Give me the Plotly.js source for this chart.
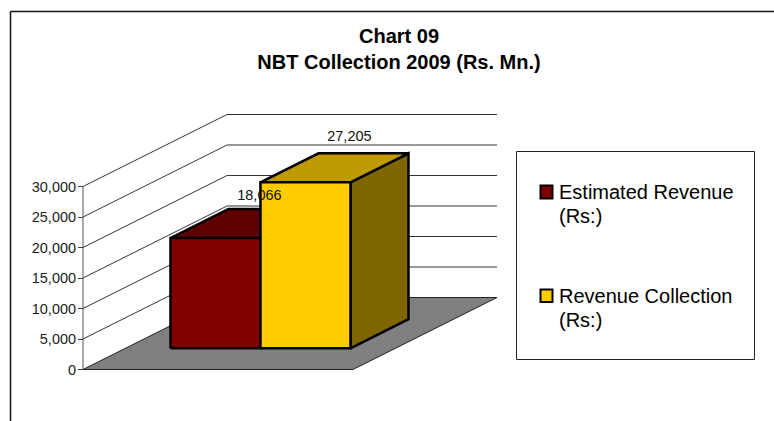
<!DOCTYPE html>
<html><head><meta charset="utf-8">
<script src="https://cdn.plot.ly/plotly-3.0.1.min.js"></script>
<style>html,body{margin:0;padding:0;background:#fff}#c{width:774px;height:421px}</style></head>
<body><div id="c"></div>
<script>
// ---- data ----
const seriesNames = [["Estimated Revenue", "(Rs:)"], ["Revenue Collection", "(Rs:)"]];
const seriesValues = [18066, 27205];
const axisTicks = [0, 5000, 10000, 15000, 20000, 25000, 30000];
const frontColors = ["#800000", "#FFCC00"];
const topColors = ["#5F0000", "#BF9900"];
const sideColors = ["#400000", "#806600"];

// ---- chart geometry (pixels on the 774x421 canvas) ----
const W = 774, H = 421;
const X0 = 83, Y0 = 369.5, FLOOR_W = 270, PX_PER_VALUE = 183 / 30000;
const DEPTH_X = 144, DEPTH_Y = 72;            // oblique offset of the back wall
const BAR_START = 1 / 6, BAR_W = 1 / 3;       // bar layout along the floor
const DEPTH_FRONT = 0.295, DEPTH_BACK = 0.698;
const LABEL_DEPTH = 0.6, LABEL_LIFT = [19.5, 22.5];
const FONT = "Liberation Sans, Arial, sans-serif";

// oblique projection: position along floor, depth (0..1), value -> axis coordinates
const P = (u, d, v) => [u + d * DEPTH_X / FLOOR_W, v + d * DEPTH_Y / PX_PER_VALUE];
const poly = (pts, fill, lw, lc) => ({
  type: "scatter", mode: "lines", x: pts.map(p => p[0]), y: pts.map(p => p[1]),
  fill: fill ? "toself" : "none", fillcolor: fill || undefined,
  line: {color: lc || "#000", width: lw}, hoverinfo: "skip", showlegend: false
});
const traces = [];
// floor
traces.push(poly([P(0,0,0),P(1,0,0),P(1,1,0),P(0,1,0),P(0,0,0)], "#808080", 1, "#222"));
// value grid on side and back walls
axisTicks.forEach(t => { if (t > 0) traces.push(poly([P(0,0,t),P(0,1,t),P(1,1,t)], null, 1, "#333")); });
// value axis line
traces.push(poly([P(0,0,0),P(0,0,axisTicks[axisTicks.length-1])], null, 1, "#555"));
// bars
seriesValues.forEach((v, i) => {
  const a = BAR_START + i * BAR_W, b = a + BAR_W, f = DEPTH_FRONT, k = DEPTH_BACK;
  const q = (u, d, h) => P(u, d, h);
  traces.push(poly([q(b,f,0),q(b,k,0),q(b,k,v),q(b,f,v),q(b,f,0)], sideColors[i], 2.5));
  traces.push(poly([q(a,f,v),q(b,f,v),q(b,k,v),q(a,k,v),q(a,f,v)], topColors[i], 2.5));
  traces.push(poly([q(a,f,0),q(b,f,0),q(b,f,v),q(a,f,v),q(a,f,0)], frontColors[i], 2.5));
});
// data labels
const labelPts = seriesValues.map((v, i) => P(BAR_START + (i + 0.5) * BAR_W, LABEL_DEPTH, v + LABEL_LIFT[i] / PX_PER_VALUE));
traces.push({type: "scatter", mode: "text", x: labelPts.map(p => p[0]), y: labelPts.map(p => p[1]),
  text: seriesValues.map(v => v.toLocaleString("en-US")), textposition: "middle center",
  textfont: {family: FONT, size: 14.5, color: "#111"}, hoverinfo: "skip", showlegend: false, cliponaxis: false});

const px = x => x / W, py = y => 1 - y / H;
const rect = (x0, y0, x1, y1, fill, lw, lc) => ({type: "rect", xref: "paper", yref: "paper",
  x0: px(x0), x1: px(x1), y0: py(y0), y1: py(y1), fillcolor: fill, line: {color: lc, width: lw}});
const seg = (x0, y0, x1, y1, lw, lc) => ({type: "line", xref: "paper", yref: "paper",
  x0: px(x0), x1: px(x1), y0: py(y0), y1: py(y1), line: {color: lc, width: lw}});
const shapes = [
  seg(10.5, 11.5, 774, 11.5, 1.5, "#111"), seg(10.5, 11.5, 10.5, 421, 1.5, "#111"),
  rect(516.5, 151.5, 754.5, 359.5, "#fff", 1, "#222"),
  rect(540.5, 185.5, 552.5, 198.5, frontColors[0], 2, "#000"),
  rect(540.5, 289.5, 552.5, 302, frontColors[1], 2, "#000")
];
const legendTextY = [[192, 216], [296, 320]];
const annotations = seriesNames.flatMap((lines, i) => lines.map((line, j) => ({
  xref: "paper", yref: "paper", x: px(558), y: py(legendTextY[i][j]), xanchor: "left", yanchor: "middle", align: "left",
  showarrow: false, text: line, font: {family: FONT, size: 20, color: "#000"}, borderpad: 0
})));

Plotly.newPlot("c", traces, {
  width: W, height: H, margin: {l: 0, r: 0, t: 0, b: 0, pad: 0},
  paper_bgcolor: "#fff", plot_bgcolor: "#fff", showlegend: false, hovermode: false,
  title: {text: "<b>Chart 09<br>NBT Collection 2009 (Rs. Mn.)</b>", x: 399 / W, xanchor: "center", y: 1 - 43 / H, yanchor: "top",
          font: {family: FONT, size: 20, color: "#000"}},
  xaxis: {visible: false, range: [-X0 / FLOOR_W, (W - X0) / FLOOR_W], fixedrange: true},
  yaxis: {range: [(Y0 - H) / PX_PER_VALUE, Y0 / PX_PER_VALUE], anchor: "free", position: X0 / W, side: "left",
          tickmode: "array", tickvals: axisTicks, ticktext: axisTicks.map(t => t.toLocaleString("en-US")),
          ticks: "outside", ticklen: 5, tickwidth: 1, tickcolor: "#444", showgrid: false, zeroline: false, showline: false,
          ticklabelstandoff: -1,
          tickfont: {family: FONT, size: 14.5, color: "#222"}, fixedrange: true, automargin: false},
  shapes, annotations
}, {displayModeBar: false, staticPlot: true});
</script></body></html>
